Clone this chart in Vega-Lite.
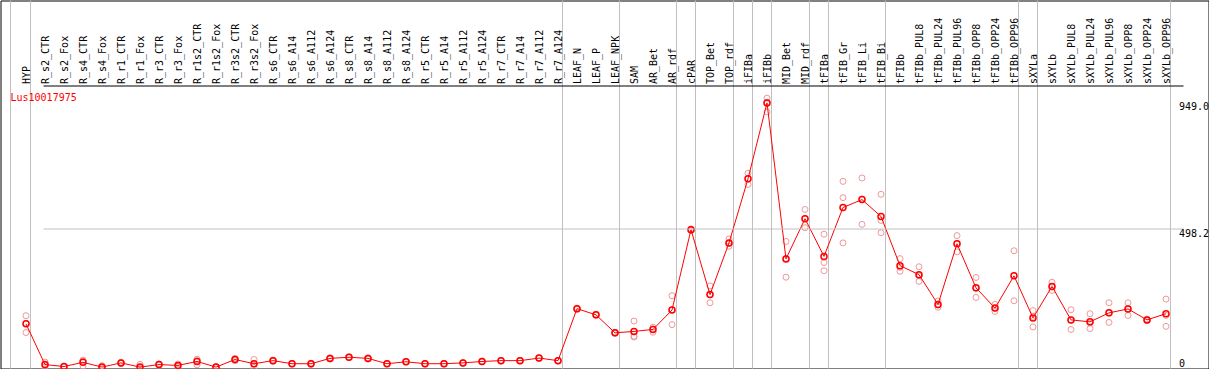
{
  "$schema": "https://vega.github.io/schema/vega-lite/v6.json",
  "width": 1208,
  "height": 368,
  "autosize": {"type": "none"},
  "padding": {"left": 0.5, "top": 0.5, "right": 0, "bottom": 0},
  "background": "white",
  "config": {"view": {"stroke": "#000000", "strokeWidth": 1}, "font": "DejaVu Sans Mono"},
  "title": {"text": "Lus10017975", "orient": "top", "anchor": "start", "frame": "group", "offset": -111, "baseline": "alphabetic", "dx": 10, "color": "#ff0000", "font": "DejaVu Sans Mono", "fontSize": 10, "fontWeight": "normal"},
  "datasets": {
    "seps": [
      {"sample": "HYP"}, {"sample": "R_r7_A124"}, {"sample": "LEAF_NPK"}, {"sample": "AR_rdf"}, {"sample": "cPAR"},
      {"sample": "TOP_rdf"}, {"sample": "iFIBa"}, {"sample": "iFIBb"}, {"sample": "MID_rdf"}, {"sample": "tFIBa"},
      {"sample": "tFIB_Bi"}, {"sample": "tFIBb_OPP96"}, {"sample": "sXYLa"}, {"sample": "sXYLb_OPP96"}
    ],
    "means": [
      {"sample": "HYP", "value": 159}, {"sample": "R_s2_CTR", "value": 14}, {"sample": "R_s2_Fox", "value": 7},
      {"sample": "R_s4_CTR", "value": 22}, {"sample": "R_s4_Fox", "value": 5}, {"sample": "R_r1_CTR", "value": 20},
      {"sample": "R_r1_Fox", "value": 5}, {"sample": "R_r3_CTR", "value": 14}, {"sample": "R_r3_Fox", "value": 11},
      {"sample": "R_r1s2_CTR", "value": 25}, {"sample": "R_r1s2_Fox", "value": 5}, {"sample": "R_r3s2_CTR", "value": 32},
      {"sample": "R_r3s2_Fox", "value": 17}, {"sample": "R_s6_CTR", "value": 28}, {"sample": "R_s6_A14", "value": 17},
      {"sample": "R_s6_A112", "value": 17}, {"sample": "R_s6_A124", "value": 36}, {"sample": "R_s8_CTR", "value": 40},
      {"sample": "R_s8_A14", "value": 36}, {"sample": "R_s8_A112", "value": 17}, {"sample": "R_s8_A124", "value": 24},
      {"sample": "R_r5_CTR", "value": 17}, {"sample": "R_r5_A14", "value": 17}, {"sample": "R_r5_A112", "value": 20},
      {"sample": "R_r5_A124", "value": 25}, {"sample": "R_r7_CTR", "value": 28}, {"sample": "R_r7_A14", "value": 28},
      {"sample": "R_r7_A112", "value": 37}, {"sample": "R_r7_A124", "value": 28}, {"sample": "LEAF_N", "value": 213},
      {"sample": "LEAF_P", "value": 191}, {"sample": "LEAF_NPK", "value": 127}, {"sample": "SAM", "value": 132},
      {"sample": "AR_Bet", "value": 139}, {"sample": "AR_rdf", "value": 208}, {"sample": "cPAR", "value": 494},
      {"sample": "TOP_Bet", "value": 263}, {"sample": "TOP_rdf", "value": 447}, {"sample": "iFIBa", "value": 675},
      {"sample": "iFIBb", "value": 945}, {"sample": "MID_Bet", "value": 390}, {"sample": "MID_rdf", "value": 533},
      {"sample": "tFIBa", "value": 399}, {"sample": "tFIB_Gr", "value": 573}, {"sample": "tFIB_Li", "value": 601},
      {"sample": "tFIB_Bi", "value": 541}, {"sample": "tFIBb", "value": 366}, {"sample": "tFIBb_PUL8", "value": 334},
      {"sample": "tFIBb_PUL24", "value": 228}, {"sample": "tFIBb_PUL96", "value": 444}, {"sample": "tFIBb_OPP8", "value": 287},
      {"sample": "tFIBb_OPP24", "value": 215}, {"sample": "tFIBb_OPP96", "value": 330}, {"sample": "sXYLa", "value": 180},
      {"sample": "sXYLb", "value": 292}, {"sample": "sXYLb_PUL8", "value": 173}, {"sample": "sXYLb_PUL24", "value": 166},
      {"sample": "sXYLb_PUL96", "value": 198}, {"sample": "sXYLb_OPP8", "value": 212}, {"sample": "sXYLb_OPP24", "value": 173},
      {"sample": "sXYLb_OPP96", "value": 195}
    ],
    "reps": [
      {"sample": "HYP", "value": 188}, {"sample": "HYP", "value": 160}, {"sample": "HYP", "value": 128},
      {"sample": "R_s2_CTR", "value": 23}, {"sample": "R_s2_CTR", "value": 12}, {"sample": "R_s2_CTR", "value": 7},
      {"sample": "R_s2_Fox", "value": 8}, {"sample": "R_s2_Fox", "value": 7}, {"sample": "R_s2_Fox", "value": 5},
      {"sample": "R_s4_CTR", "value": 30}, {"sample": "R_s4_CTR", "value": 26}, {"sample": "R_s4_CTR", "value": 9},
      {"sample": "R_s4_Fox", "value": 10}, {"sample": "R_s4_Fox", "value": 4}, {"sample": "R_s4_Fox", "value": 2},
      {"sample": "R_r1_CTR", "value": 22}, {"sample": "R_r1_CTR", "value": 20}, {"sample": "R_r1_CTR", "value": 18},
      {"sample": "R_r1_Fox", "value": 15}, {"sample": "R_r1_Fox", "value": 1}, {"sample": "R_r1_Fox", "value": 0},
      {"sample": "R_r3_CTR", "value": 16}, {"sample": "R_r3_CTR", "value": 14}, {"sample": "R_r3_CTR", "value": 12},
      {"sample": "R_r3_Fox", "value": 16}, {"sample": "R_r3_Fox", "value": 10}, {"sample": "R_r3_Fox", "value": 7},
      {"sample": "R_r1s2_CTR", "value": 33}, {"sample": "R_r1s2_CTR", "value": 28}, {"sample": "R_r1s2_CTR", "value": 13},
      {"sample": "R_r1s2_Fox", "value": 7}, {"sample": "R_r1s2_Fox", "value": 5}, {"sample": "R_r1s2_Fox", "value": 3},
      {"sample": "R_r3s2_CTR", "value": 36}, {"sample": "R_r3s2_CTR", "value": 32}, {"sample": "R_r3s2_CTR", "value": 28},
      {"sample": "R_r3s2_Fox", "value": 32}, {"sample": "R_r3s2_Fox", "value": 15}, {"sample": "R_r3s2_Fox", "value": 4},
      {"sample": "R_s6_CTR", "value": 30}, {"sample": "R_s6_CTR", "value": 28}, {"sample": "R_s6_CTR", "value": 26},
      {"sample": "R_s6_A14", "value": 18}, {"sample": "R_s6_A14", "value": 17}, {"sample": "R_s6_A14", "value": 16},
      {"sample": "R_s6_A112", "value": 19}, {"sample": "R_s6_A112", "value": 17}, {"sample": "R_s6_A112", "value": 15},
      {"sample": "R_s6_A124", "value": 38}, {"sample": "R_s6_A124", "value": 36}, {"sample": "R_s6_A124", "value": 34},
      {"sample": "R_s8_CTR", "value": 41}, {"sample": "R_s8_CTR", "value": 40}, {"sample": "R_s8_CTR", "value": 39},
      {"sample": "R_s8_A14", "value": 38}, {"sample": "R_s8_A14", "value": 36}, {"sample": "R_s8_A14", "value": 34},
      {"sample": "R_s8_A112", "value": 18}, {"sample": "R_s8_A112", "value": 17}, {"sample": "R_s8_A112", "value": 16},
      {"sample": "R_s8_A124", "value": 25}, {"sample": "R_s8_A124", "value": 24}, {"sample": "R_s8_A124", "value": 23},
      {"sample": "R_r5_CTR", "value": 18}, {"sample": "R_r5_CTR", "value": 17}, {"sample": "R_r5_CTR", "value": 16},
      {"sample": "R_r5_A14", "value": 18}, {"sample": "R_r5_A14", "value": 17}, {"sample": "R_r5_A14", "value": 16},
      {"sample": "R_r5_A112", "value": 21}, {"sample": "R_r5_A112", "value": 20}, {"sample": "R_r5_A112", "value": 19},
      {"sample": "R_r5_A124", "value": 26}, {"sample": "R_r5_A124", "value": 25}, {"sample": "R_r5_A124", "value": 24},
      {"sample": "R_r7_CTR", "value": 29}, {"sample": "R_r7_CTR", "value": 28}, {"sample": "R_r7_CTR", "value": 27},
      {"sample": "R_r7_A14", "value": 29}, {"sample": "R_r7_A14", "value": 28}, {"sample": "R_r7_A14", "value": 27},
      {"sample": "R_r7_A112", "value": 38}, {"sample": "R_r7_A112", "value": 37}, {"sample": "R_r7_A112", "value": 36},
      {"sample": "R_r7_A124", "value": 29}, {"sample": "R_r7_A124", "value": 28}, {"sample": "R_r7_A124", "value": 27},
      {"sample": "LEAF_N", "value": 215}, {"sample": "LEAF_N", "value": 213}, {"sample": "LEAF_N", "value": 211},
      {"sample": "LEAF_P", "value": 193}, {"sample": "LEAF_P", "value": 191}, {"sample": "LEAF_P", "value": 189},
      {"sample": "LEAF_NPK", "value": 129}, {"sample": "LEAF_NPK", "value": 127}, {"sample": "LEAF_NPK", "value": 125},
      {"sample": "SAM", "value": 169}, {"sample": "SAM", "value": 115}, {"sample": "SAM", "value": 112},
      {"sample": "AR_Bet", "value": 147}, {"sample": "AR_Bet", "value": 141}, {"sample": "AR_Bet", "value": 129},
      {"sample": "AR_rdf", "value": 259}, {"sample": "AR_rdf", "value": 209}, {"sample": "AR_rdf", "value": 156},
      {"sample": "cPAR", "value": 497}, {"sample": "cPAR", "value": 494}, {"sample": "cPAR", "value": 491},
      {"sample": "TOP_Bet", "value": 294}, {"sample": "TOP_Bet", "value": 262}, {"sample": "TOP_Bet", "value": 234},
      {"sample": "TOP_rdf", "value": 461}, {"sample": "TOP_rdf", "value": 446}, {"sample": "TOP_rdf", "value": 435},
      {"sample": "iFIBa", "value": 695}, {"sample": "iFIBa", "value": 675}, {"sample": "iFIBa", "value": 655},
      {"sample": "iFIBb", "value": 962}, {"sample": "iFIBb", "value": 948}, {"sample": "iFIBb", "value": 913},
      {"sample": "MID_Bet", "value": 452}, {"sample": "MID_Bet", "value": 392}, {"sample": "MID_Bet", "value": 325},
      {"sample": "MID_rdf", "value": 566}, {"sample": "MID_rdf", "value": 533}, {"sample": "MID_rdf", "value": 501},
      {"sample": "tFIBa", "value": 478}, {"sample": "tFIBa", "value": 377}, {"sample": "tFIBa", "value": 348},
      {"sample": "tFIB_Gr", "value": 666}, {"sample": "tFIB_Gr", "value": 608}, {"sample": "tFIB_Gr", "value": 447},
      {"sample": "tFIB_Li", "value": 678}, {"sample": "tFIB_Li", "value": 603}, {"sample": "tFIB_Li", "value": 513},
      {"sample": "tFIB_Bi", "value": 620}, {"sample": "tFIB_Bi", "value": 527}, {"sample": "tFIB_Bi", "value": 483},
      {"sample": "tFIBb", "value": 391}, {"sample": "tFIBb", "value": 360}, {"sample": "tFIBb", "value": 346},
      {"sample": "tFIBb_PUL8", "value": 362}, {"sample": "tFIBb_PUL8", "value": 330}, {"sample": "tFIBb_PUL8", "value": 310},
      {"sample": "tFIBb_PUL24", "value": 240}, {"sample": "tFIBb_PUL24", "value": 226}, {"sample": "tFIBb_PUL24", "value": 218},
      {"sample": "tFIBb_PUL96", "value": 473}, {"sample": "tFIBb_PUL96", "value": 444}, {"sample": "tFIBb_PUL96", "value": 415},
      {"sample": "tFIBb_OPP8", "value": 324}, {"sample": "tFIBb_OPP8", "value": 285}, {"sample": "tFIBb_OPP8", "value": 253},
      {"sample": "tFIBb_OPP24", "value": 228}, {"sample": "tFIBb_OPP24", "value": 214}, {"sample": "tFIBb_OPP24", "value": 203},
      {"sample": "tFIBb_OPP96", "value": 419}, {"sample": "tFIBb_OPP96", "value": 330}, {"sample": "tFIBb_OPP96", "value": 241},
      {"sample": "sXYLa", "value": 206}, {"sample": "sXYLa", "value": 186}, {"sample": "sXYLa", "value": 148},
      {"sample": "sXYLb", "value": 307}, {"sample": "sXYLb", "value": 291}, {"sample": "sXYLb", "value": 278},
      {"sample": "sXYLb_PUL8", "value": 209}, {"sample": "sXYLb_PUL8", "value": 172}, {"sample": "sXYLb_PUL8", "value": 139},
      {"sample": "sXYLb_PUL24", "value": 195}, {"sample": "sXYLb_PUL24", "value": 162}, {"sample": "sXYLb_PUL24", "value": 142},
      {"sample": "sXYLb_PUL96", "value": 234}, {"sample": "sXYLb_PUL96", "value": 197}, {"sample": "sXYLb_PUL96", "value": 164},
      {"sample": "sXYLb_OPP8", "value": 234}, {"sample": "sXYLb_OPP8", "value": 213}, {"sample": "sXYLb_OPP8", "value": 189},
      {"sample": "sXYLb_OPP24", "value": 176}, {"sample": "sXYLb_OPP24", "value": 173}, {"sample": "sXYLb_OPP24", "value": 170},
      {"sample": "sXYLb_OPP96", "value": 247}, {"sample": "sXYLb_OPP96", "value": 189}, {"sample": "sXYLb_OPP96", "value": 150}
    ]
  },
  "encoding": {
    "x": {
      "field": "sample",
      "type": "nominal",
      "scale": {
        "type": "point",
        "domain": ["HYP", "R_s2_CTR", "R_s2_Fox", "R_s4_CTR", "R_s4_Fox", "R_r1_CTR", "R_r1_Fox", "R_r3_CTR", "R_r3_Fox", "R_r1s2_CTR", "R_r1s2_Fox", "R_r3s2_CTR", "R_r3s2_Fox", "R_s6_CTR", "R_s6_A14", "R_s6_A112", "R_s6_A124", "R_s8_CTR", "R_s8_A14", "R_s8_A112", "R_s8_A124", "R_r5_CTR", "R_r5_A14", "R_r5_A112", "R_r5_A124", "R_r7_CTR", "R_r7_A14", "R_r7_A112", "R_r7_A124", "LEAF_N", "LEAF_P", "LEAF_NPK", "SAM", "AR_Bet", "AR_rdf", "cPAR", "TOP_Bet", "TOP_rdf", "iFIBa", "iFIBb", "MID_Bet", "MID_rdf", "tFIBa", "tFIB_Gr", "tFIB_Li", "tFIB_Bi", "tFIBb", "tFIBb_PUL8", "tFIBb_PUL24", "tFIBb_PUL96", "tFIBb_OPP8", "tFIBb_OPP24", "tFIBb_OPP96", "sXYLa", "sXYLb", "sXYLb_PUL8", "sXYLb_PUL24", "sXYLb_PUL96", "sXYLb_OPP8", "sXYLb_OPP24", "sXYLb_OPP96"],
        "range": [25.5, 1165.5],
        "padding": 0,
        "round": false
      },
      "axis": {
        "orient": "top",
        "offset": -85,
        "title": null,
        "labelAngle": -90,
        "ticks": false,
        "grid": false,
        "domain": false,
        "labelPadding": 2,
        "labelFont": "DejaVu Sans Mono",
        "labelFontSize": 10,
        "labelColor": "#000000",
        "labelOverlap": false,
        "zindex": 1
      }
    }
  },
  "layer": [
    {
      "data": {"name": "seps"},
      "mark": {"type": "rule", "color": "#c0c0c0", "strokeWidth": 1, "xOffset": 4.5}
    },
    {
      "data": {"values": [{}]},
      "mark": {"type": "rule", "color": "#c0c0c0", "strokeWidth": 1, "xOffset": -15.5},
      "encoding": {"x": {"datum": "HYP", "type": "nominal"}}
    },
    {
      "data": {"name": "reps"},
      "mark": {"type": "point", "shape": "circle", "filled": false, "color": "#f09898", "size": 36, "strokeWidth": 1, "opacity": 1, "clip": false},
      "encoding": {
        "y": {"field": "value", "type": "quantitative", "scale": {"domain": [0, 1309.6], "nice": false, "zero": true}}
      }
    },
    {
      "data": {"name": "means"},
      "mark": {"type": "line", "color": "#ff0000", "strokeWidth": 1},
      "encoding": {
        "y": {
          "field": "value",
          "type": "quantitative",
          "scale": {"domain": [0, 1309.6], "nice": false, "zero": true},
          "axis": {
            "orient": "right",
            "offset": -38,
            "title": null,
            "values": [0, 498.2, 949, 1007.1],
            "labelExpr": "datum.value == 0 ? '0' : datum.value > 1000 ? '' : format(datum.value, '.1f')",
            "ticks": false,
            "domain": false,
            "labelPadding": 8,
            "labelAlign": "left",
            "labelBaseline": {"condition": {"test": "datum.value == 0", "value": "bottom"}, "value": "top"},
            "labelFont": "DejaVu Sans Mono",
            "labelFontSize": 10,
            "labelColor": "#000000",
            "labelOverlap": false,
            "grid": true,
            "gridColor": {"condition": {"test": "datum.value > 1000", "value": "#000000"}, "value": "#c0c0c0"},
            "gridWidth": 1,
            "gridOpacity": {"condition": {"test": "datum.value == 498.2 || datum.value > 1000", "value": 1}, "value": 0},
            "zindex": 1
          }
        }
      }
    },
    {
      "data": {"name": "means"},
      "mark": {"type": "point", "shape": "circle", "filled": false, "color": "#ff0000", "size": 36, "strokeWidth": 1.5, "opacity": 1, "clip": false},
      "encoding": {
        "y": {"field": "value", "type": "quantitative", "scale": {"domain": [0, 1309.6], "nice": false, "zero": true}}
      }
    }
  ]
}
